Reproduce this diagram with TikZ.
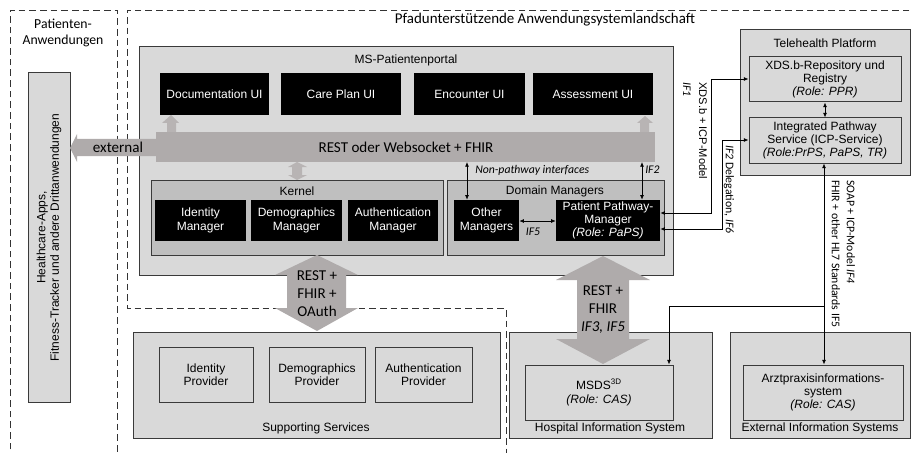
\documentclass[tikz,border=0pt]{standalone}
\usepackage{fontspec}
\setmainfont{Liberation Sans}
\newfontfamily\calibri{Carlito}
\usetikzlibrary{arrows.meta,calc}
\definecolor{lg}{HTML}{D9D9D9}
\definecolor{mg}{HTML}{BFBFBF}
\definecolor{ag}{HTML}{AFABAB}
\definecolor{ag2}{HTML}{B8B4B4}
\definecolor{bd}{HTML}{3A3A3A}
\newcommand\fA{\fontsize{9}{10}\selectfont}
\newcommand\fAs{\fontsize{8.3}{10}\selectfont}
\newcommand\fC{\calibri\fontsize{11.3}{13.5}\selectfont}
\newcommand\fCs{\calibri\fontsize{8.8}{10.5}\selectfont}
% box from pixel corners: style, name, x1, y1, x2, y2, text
\newcommand\bx[7]{\node[#1, minimum width={(#5-#3)*0.75pt}, minimum height={(#6-#4)*0.75pt}] (#2) at ({(#3+#5)/2},{(#4+#6)/2}) {#7};}
\begin{document}
\begin{tikzpicture}[x=0.75pt,y=-0.75pt,
  graybox/.style={draw=bd, fill=lg, line width=0.75pt, inner sep=0pt, font=\fA, align=center},
  darkbox/.style={graybox, fill=mg},
  blackbox/.style={fill=black, text=white, inner sep=0pt, font=\fA, align=center},
  frame/.style={draw=black!80, line width=0.7pt, dash pattern=on 5pt off 3pt},
  conn/.style={line width=0.6pt, >={Latex[length=3.5pt,width=3pt]}},
  lbl/.style={inner sep=0pt, font=\fA, align=center},
  clbl/.style={inner sep=0pt, font=\fCs\itshape},
  bigarrow/.style={fill=ag, draw=none}]
\useasboundingbox (0,0) rectangle (911,453);

% dashed frames
\draw[frame] (10,460) -- (10,10) -- (117,10) -- (117,460);
\draw[frame] (920,10) -- (127,10) -- (127,308) -- (506,308) -- (506,460);
\node[inner sep=0pt, font=\calibri\fontsize{10.3}{12.5}\selectfont, align=center] (patapp) at (63,33) {Patienten-\\Anwendungen};
\node[inner sep=0pt, font=\calibri\fontsize{11.2}{13}\selectfont] (title) at (545,20) {Pfadunterstützende Anwendungsystemlandschaft};

% left app box
\bx{graybox}{apps}{28}{73}{70}{402}{}
\node[lbl, rotate=90] (appstxt) at (apps.center) {Healthcare-Apps,\\Fitness-Tracker und andere Drittanwendungen};

% portal
\bx{graybox}{portal}{139}{47}{673}{275}{}
\node[lbl] (portaltxt) at (406,60) {MS-Patientenportal};
\bx{blackbox}{doc}{160}{73}{269}{115}{Documentation UI}
\bx{blackbox}{care}{281}{73}{401}{115}{Care Plan UI}
\bx{blackbox}{enc}{414}{73}{525}{115}{Encounter UI}
\bx{blackbox}{ass}{533}{73}{653}{115}{Assessment UI}

% REST bar and external arrow
\fill[ag] (156,132) rectangle (655,162);
\fill[ag] (156,139) -- (77,139) -- (77,134) -- (70,148) -- (77,162) -- (77,156) -- (156,156) -- cycle;
\node[inner sep=0pt, font=\fC] (rest) at (406,147) {REST oder Websocket + FHIR};
\node[inner sep=0pt, font=\fC] (ext) at (118,147) {external};
% up arrows
\fill[ag2] (167,132) -- (167,123) -- (162,123) -- (171,115) -- (179,123) -- (176,123) -- (176,132) -- cycle;
\fill[ag2] (640,132) -- (640,123) -- (637,123) -- (645,116) -- (653,123) -- (649,123) -- (649,132) -- cycle;
% kernel double arrow
\fill[ag2] (297,162) -- (307,167) -- (302,167) -- (302,175) -- (307,175) -- (297,180) -- (288,175) -- (292,175) -- (292,167) -- (288,167) -- cycle;

% kernel
\bx{darkbox}{kernel}{151}{180}{443}{255}{}
\node[lbl] (kerneltxt) at (297,191) {Kernel};
\bx{blackbox}{idm}{155}{200}{246}{241}{Identity\\Manager}
\bx{blackbox}{demm}{251}{200}{342}{241}{Demographics\\Manager}
\bx{blackbox}{authm}{348}{200}{438}{241}{Authentication\\Manager}

% domain managers
\bx{darkbox}{dm}{447}{180}{664}{255}{}
\node[lbl] (dmtxt) at (555,191) {Domain Managers};
\bx{blackbox}{om}{454}{200}{519}{241}{Other\\Managers}
\bx{blackbox}{ppm}{556}{200}{660}{241}{Patient Pathway-\\Manager\\\textit{(Role: PaPS)}}

\draw[conn,<->] (om.east |- 0,221) -- (ppm.west |- 0,221);
\node[clbl] (if5) at (533,232) {IF5};
\draw[conn,<->] (467,162) -- (om.north -| 467,0);
\node[clbl, anchor=west] (npi) at (475,170) {Non-pathway interfaces};
\draw[conn,<->] (642,162) -- (ppm.north -| 642,0);
\node[clbl, anchor=west] (if2) at (645,170) {IF2};

% supporting services
\bx{graybox}{supp}{133}{332}{500}{438}{}
\node[lbl] (supptxt) at (316,428) {Supporting Services};
\bx{graybox}{idp}{159}{347}{253}{402}{Identity\\Provider}
\bx{graybox}{demp}{269}{347}{365}{402}{Demographics\\Provider}
\bx{graybox}{authp}{375}{347}{472}{402}{Authentication\\Provider}

% hospital information system
\bx{graybox}{his}{509}{332}{712}{438}{}
\node[lbl] (histxt) at (610,428) {Hospital Information System};
\bx{graybox}{msds}{525}{365}{673}{420}{MSDS\textsuperscript{3D}\\\textit{(Role: CAS)}}

% external information systems
\bx{graybox}{eis}{730}{332}{910}{438}{}
\node[lbl] (eistxt) at (820,428) {External Information Systems};
\bx{graybox}{arzt}{743}{365}{903}{420}{Arztpraxisinformations-\\system\\\textit{(Role: CAS)}}

% telehealth platform
\bx{graybox}{tele}{740}{30}{910}{175}{}
\node[lbl] (teletxt) at (825,43) {Telehealth Platform};
\bx{graybox}{xds}{749}{57}{901}{102}{XDS.b-Repository und\\Registry\\\textit{(Role: PPR)}}
\bx{graybox}{icp}{749}{118}{901}{163}{Integrated Pathway\\Service (ICP-Service)\\\textit{(Role:PrPS, PaPS, TR)}}
\draw[conn,<->] (xds.south -| 825,0) -- (icp.north -| 825,0);

% big arrows
\fill[ag] (317,255) -- (358,275) -- (346,275) -- (346,308) -- (358,308) -- (317,331) -- (275,308) -- (287,308) -- (287,275) -- (275,275) -- cycle;
\node[inner sep=0pt, font=\fC, align=center] (oauth) at (317,294) {REST +\\FHIR +\\OAuth};
\fill[ag] (603,256) -- (650,280) -- (629,280) -- (629,339) -- (650,339) -- (603,364) -- (556,339) -- (577,339) -- (577,280) -- (556,280) -- cycle;
\node[inner sep=0pt, font=\fC, align=center] (if3) at (603,310) {REST +\\FHIR\\\textit{IF3, IF5}};

% connectors to telehealth
\coordinate (k1) at (711,79);
\coordinate (k2) at (722,140);
\draw[conn,<->] (ppm.east |- 0,213) -| (k1) -- (xds.west |- k1);
\draw[conn,<->] (ppm.east |- 0,229) -| (k2) -- (icp.west |- k2);
\node[inner sep=0pt, font=\fAs, rotate=-90, anchor=west] (xdslbl) at (703,82) {XDS.b + ICP-Model};
\node[clbl, rotate=-90, anchor=west] (if1) at (687,82) {IF1};
\node[inner sep=0pt, font=\fCs, rotate=-90, anchor=west] (if2d) at (729,145) {\textit{IF2} Delegation, \textit{IF6}};

\coordinate (k3) at (824,306);
\draw[conn,<->] (icp.south -| k3) -- (arzt.north -| k3);
\draw[conn,->] (k3) -| (msds.north -| 669,0);
\node[inner sep=0pt, font=\fCs, rotate=-90, anchor=west] (soap) at (851,180) {SOAP + ICP-Model \textit{IF4}};
\node[inner sep=0pt, font=\fCs, rotate=-90, anchor=west] (fhir) at (836,180) {FHIR + other HL7 Standards IF5};
\end{tikzpicture}
\end{document}
